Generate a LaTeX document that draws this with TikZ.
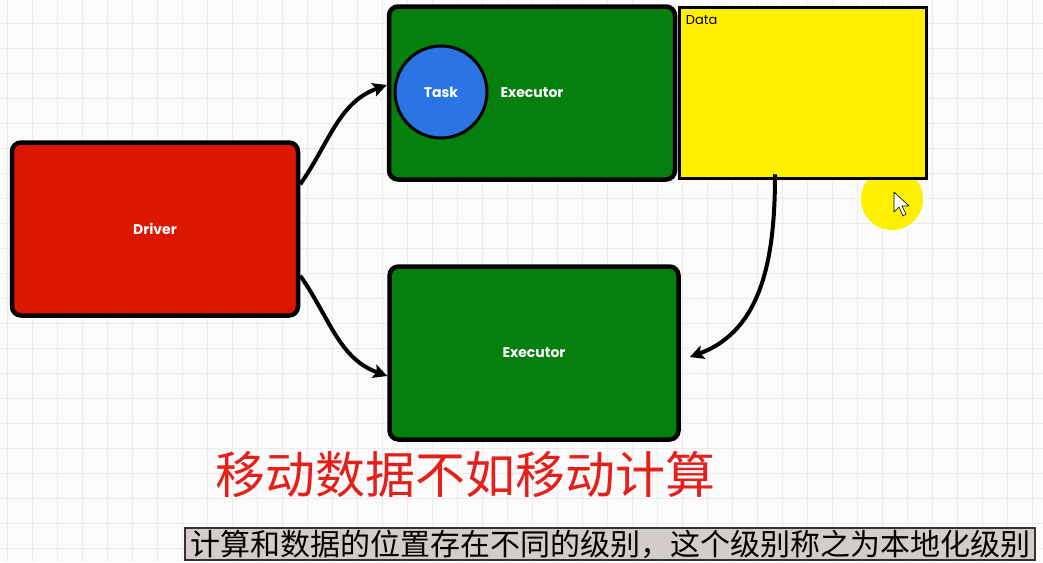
\documentclass[tikz,border=0pt]{standalone}
\usepackage{fontspec}
\setmainfont{Poppins}
\newfontfamily\cjk{Noto Sans CJK SC}
\usetikzlibrary{positioning,arrows.meta}
\definecolor{bgwhite}{HTML}{FBFBFB}
\definecolor{gridgray}{HTML}{EBEBEB}
\definecolor{drvred}{HTML}{DD1600}
\definecolor{exgreen}{HTML}{05800F}
\definecolor{taskblue}{HTML}{2A75E3}
\definecolor{datayellow}{HTML}{FFF000}
\definecolor{subgray}{HTML}{D3CCC8}
\definecolor{titlered}{HTML}{E5201A}
\begin{document}
\begin{tikzpicture}[x=1pt,y=-1pt,>={Stealth[length=14pt,width=14pt,inset=3pt]},
  gridline/.style={gridgray,line width=0.8pt},
  box/.style={draw=black,line width=4.5pt,rounded corners=9pt,text=white,font=\bfseries\fontsize{14}{16}\selectfont,minimum width=286pt,minimum height=173pt},
  link/.style={->,line width=4pt}]
\useasboundingbox[fill=bgwhite] (0,0) rectangle (1043,562);
\foreach \gx in {7,32,...,1043} \draw[gridline] (\gx,0) -- (\gx,562);
\foreach \gy in {23,48,...,562} \draw[gridline] (0,\gy) -- (1043,\gy);

\fill[datayellow] (892,199) circle (31);
\draw[fill=white,line width=0.6pt,line join=round] (894,192) -- (894,212) -- (899,207) -- (903,216) -- (906,214) -- (902,206) -- (909,206) -- cycle;

\node[box,fill=drvred] (drv) at (155,229) {Driver};
\node[box,fill=exgreen] (ex1) at (532,93) {Executor};
\node[box,fill=exgreen,minimum width=289pt] (ex2) at (534,353) {Executor};
\node[draw=black,line width=3.5pt,fill=datayellow,minimum width=247pt,minimum height=171pt] (data) at (803,93) {};
\node[anchor=north west,font=\fontsize{13}{15}\selectfont,inner sep=0pt] (datatxt) at ([xshift=8pt,yshift=-9pt]data.north west) {Data};
\node[circle,draw=black,line width=3pt,fill=taskblue,text=white,minimum size=92pt,inner sep=0pt,font=\bfseries\fontsize{14}{16}\selectfont] (task) at (441,92) {Task};

\draw[link] ([yshift=-44pt]drv.north east) to[out=55,in=200] ([yshift=8pt]ex1.west);
\draw[link] ([yshift=42pt]drv.south east) to[out=-55,in=160] ([yshift=-23pt]ex2.west);
\draw[link] ([xshift=-28pt,yshift=6pt]data.south) to[out=-90,in=20] ([xshift=9pt,yshift=-4pt]ex2.east);

\node[text=titlered,font=\cjk\fontsize{50}{54}\selectfont] (title) at (465,474) {移动数据不如移动计算};
\node[draw=black!80,line width=1.5pt,fill=subgray,minimum width=850pt,minimum height=32pt,inner sep=0pt,font=\cjk\fontsize{30}{32}\selectfont] (sub) at (610,544) {计算和数据的位置存在不同的级别，这个级别称之为本地化级别};
\end{tikzpicture}
\end{document}
